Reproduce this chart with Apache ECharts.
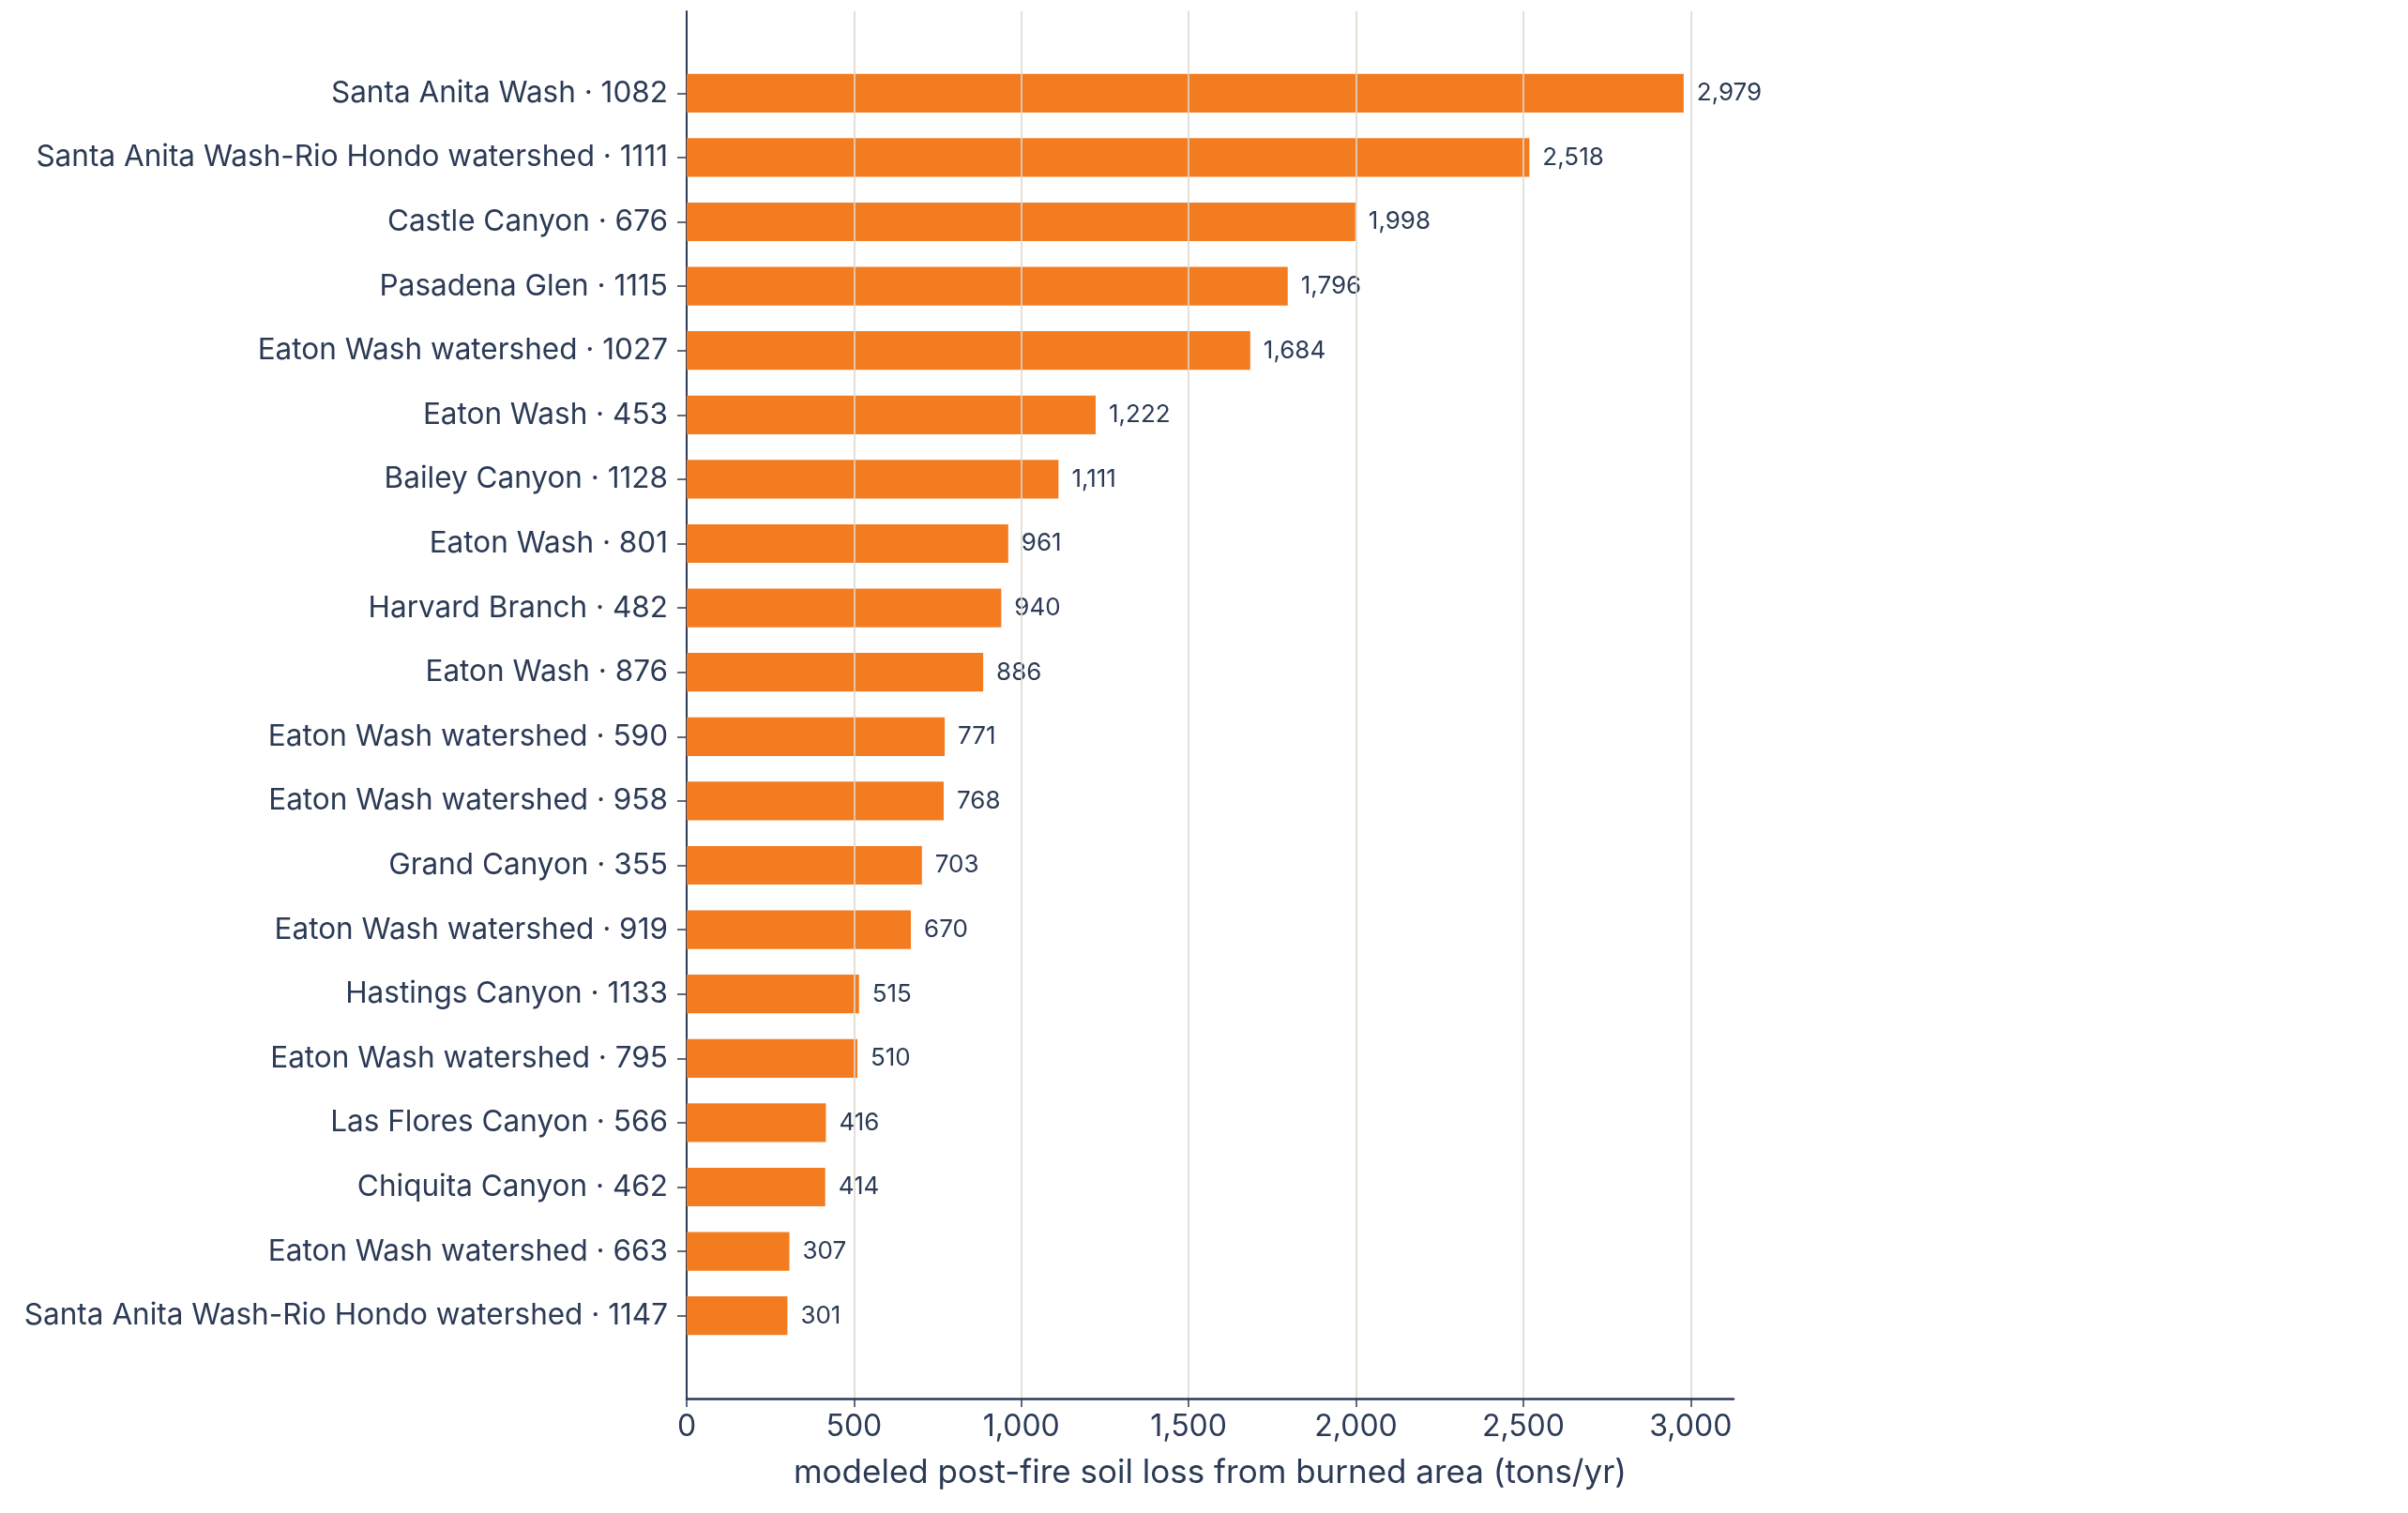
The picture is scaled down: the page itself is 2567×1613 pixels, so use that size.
<!DOCTYPE html>
<html>
<head>
<meta charset="utf-8">
<script src="https://cdn.jsdelivr.net/npm/echarts@6/dist/echarts.min.js"></script>
<style>
  html, body { margin: 0; padding: 0; background: #fff; }
  #chart { width: 2567px; height: 1613px; }
</style>
</head>
<body>
<div id="chart"></div>
<script>
const watersheds = [
    "Santa Anita Wash · 1082",
    "Santa Anita Wash-Rio Hondo watershed · 1111",
    "Castle Canyon · 676",
    "Pasadena Glen · 1115",
    "Eaton Wash watershed · 1027",
    "Eaton Wash · 453",
    "Bailey Canyon · 1128",
    "Eaton Wash · 801",
    "Harvard Branch · 482",
    "Eaton Wash · 876",
    "Eaton Wash watershed · 590",
    "Eaton Wash watershed · 958",
    "Grand Canyon · 355",
    "Eaton Wash watershed · 919",
    "Hastings Canyon · 1133",
    "Eaton Wash watershed · 795",
    "Las Flores Canyon · 566",
    "Chiquita Canyon · 462",
    "Eaton Wash watershed · 663",
    "Santa Anita Wash-Rio Hondo watershed · 1147"
];
const soilLoss = [2979, 2518, 1998, 1796, 1684, 1222, 1111, 961, 940, 886, 771, 768, 703, 670, 515, 510, 416, 414, 307, 301];
const xTicks = [0, 500, 1000, 1500, 2000, 2500, 3000];

const FONT = "Inter, 'Noto Sans', sans-serif";
const INK = '#2b3a55';
const xMax = 3128;
const fmt = (v) => Number(v).toLocaleString('en-US');

const myChart = echarts.init(document.getElementById('chart'));

const option = {
    animation: false,
    backgroundColor: '#ffffff',
    textStyle: { fontFamily: FONT, color: INK },
    // grid 0: full-height frame with axis lines, ticks and gridlines
    // grid 1: inner band where the categories sit
    grid: [
        { left: 732, right: 719, top: 12, bottom: 122, containLabel: false },
        { left: 732, right: 719, top: 65, bottom: 176, containLabel: false }
    ],
    xAxis: [
        {
            gridIndex: 0,
            type: 'value',
            min: 0,
            max: xMax,
            interval: 500,
            z: 5,
            name: 'modeled post-fire soil loss from burned area (tons/yr)',
            nameLocation: 'middle',
            nameGap: 62,
            nameTextStyle: { fontSize: 35, color: INK, fontFamily: FONT },
            axisLine: { show: true, lineStyle: { color: INK, width: 2.5 } },
            axisTick: { show: true, length: 9, customValues: xTicks, lineStyle: { color: INK, width: 1.5 } },
            axisLabel: {
                fontSize: 32, color: INK, fontFamily: FONT, margin: 14,
                customValues: xTicks,
                formatter: fmt
            },
            splitLine: { show: true, showMinLine: false, lineStyle: { color: '#ddd9ce', width: 1.6 } }
        },
        {
            gridIndex: 1,
            type: 'value',
            min: 0,
            max: xMax,
            show: false
        }
    ],
    yAxis: [
        {
            gridIndex: 0,
            type: 'value',
            axisLine: { show: true, lineStyle: { color: INK, width: 2 } },
            axisTick: { show: false },
            axisLabel: { show: false },
            splitLine: { show: false }
        },
        {
            gridIndex: 1,
            type: 'category',
            data: watersheds,
            inverse: true,
            axisLine: { show: false },
            axisTick: { show: true, alignWithLabel: true, length: 10, lineStyle: { color: INK, width: 1.5 } },
            axisLabel: { fontSize: 31.5, color: INK, fontFamily: FONT, margin: 20 }
        }
    ],
    series: [
        {
            type: 'bar',
            xAxisIndex: 1,
            yAxisIndex: 1,
            data: soilLoss,
            barWidth: '60%',
            itemStyle: { color: '#f47c20' },
            label: {
                show: true,
                position: 'right',
                distance: 14,
                fontSize: 26,
                color: INK,
                fontFamily: FONT,
                formatter: (p) => fmt(p.value)
            }
        }
    ]
};

myChart.setOption(option);
</script>
</body>
</html>
